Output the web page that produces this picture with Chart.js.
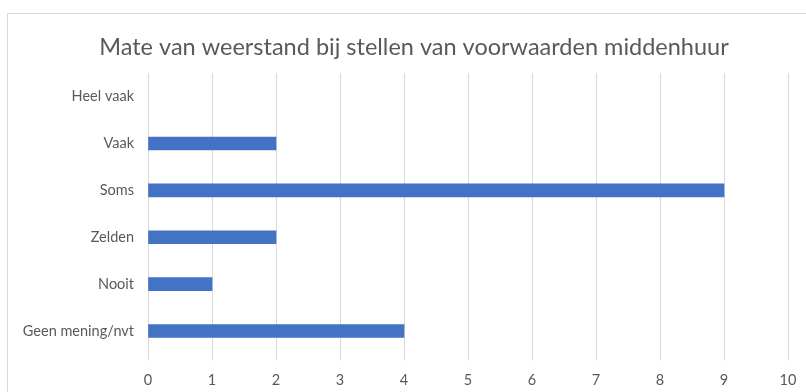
<!DOCTYPE html>
<html>
<head>
<meta charset="utf-8">
<script src="https://cdn.jsdelivr.net/npm/chart.js@4"></script>
<style>
  html, body { margin: 0; padding: 0; background: #fff; overflow: hidden; }
  #frame { position: absolute; left: 7px; top: 13px; width: 900px; height: 500px; border: 1px solid #d9d9d9; box-sizing: border-box; }
  #wrap { position: absolute; left: 0; top: 0; width: 828px; height: 392px; }
</style>
</head>
<body>
<div id="frame"></div>
<div id="wrap"><canvas id="chart" width="828" height="392"></canvas></div>
<script>
const title = 'Mate van weerstand bij stellen van voorwaarden middenhuur';
const categories = ['Heel vaak', 'Vaak', 'Soms', 'Zelden', 'Nooit', 'Geen mening/nvt'];
const counts = [0, 2, 9, 2, 1, 4];
const xMin = 0;
const xMax = 10;

const textColor = '#595959';
const barColor = '#4472C4';
const fontFamily = 'Lato, "Open Sans", sans-serif';

const ctx = document.getElementById('chart').getContext('2d');
new Chart(ctx, {
    type: 'bar',
    data: {
        labels: categories,
        datasets: [{
            label: 'Aantal',
            data: counts,
            // an empty category should not leave a sliver at 0
            backgroundColor: (c) => c.raw === 0 ? 'rgba(0,0,0,0)' : barColor,
            borderWidth: 0,
            barThickness: 13
        }]
    },
    options: {
        indexAxis: 'y',
        responsive: false,
        animation: false,
        layout: { padding: { left: 0, right: 0, top: 23, bottom: 0 } },
        plugins: {
            legend: { display: false },
            tooltip: { enabled: false },
            title: {
                display: true,
                text: title,
                color: textColor,
                font: { family: fontFamily, size: 23.5, weight: 'normal' },
                padding: { top: 10, bottom: 12 }
            }
        },
        scales: {
            x: {
                min: xMin,
                max: xMax,
                ticks: { stepSize: 1, color: textColor, padding: 11, font: { family: fontFamily, size: 14.5 } },
                grid: { color: '#d9d9d9', drawTicks: true, tickLength: 6 },
                border: { display: false },
                afterFit: (scale) => { scale.height = 37.6; }
            },
            y: {
                ticks: { color: textColor, padding: 14, font: { family: fontFamily, size: 14.5 } },
                grid: { display: false, drawTicks: false },
                border: { display: false },
                afterFit: (scale) => { scale.width = 148; }
            },
            // empty right-hand gutter, keeps the title centred like the original
            gutter: {
                type: 'category',
                axis: 'y',
                position: 'right',
                ticks: { display: false },
                grid: { display: false, drawTicks: false },
                border: { display: false },
                afterFit: (scale) => { scale.width = 40; }
            }
        }
    }
});
</script>
</body>
</html>
